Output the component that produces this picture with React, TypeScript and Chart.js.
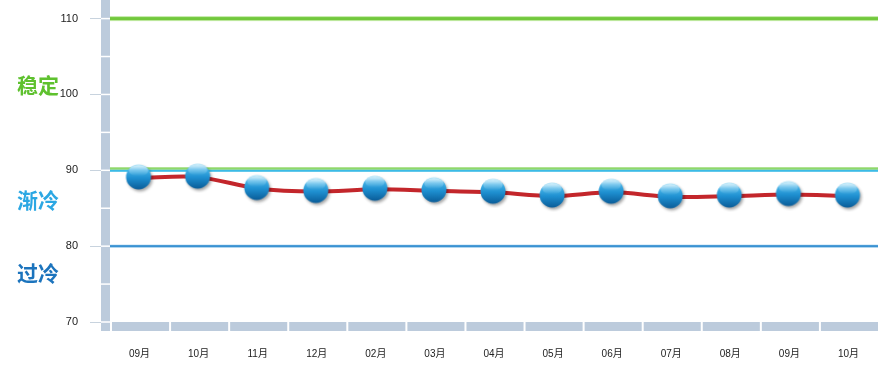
import React, { useEffect, useRef } from 'react';
import { Chart, registerables } from 'chart.js';

Chart.register(...registerables);

const months = ['09月', '10月', '11月', '12月', '02月', '03月', '04月', '05月', '06月', '07月', '08月', '09月', '10月'];
const values = [89.0, 89.1, 87.6, 87.2, 87.5, 87.3, 87.1, 86.6, 87.1, 86.5, 86.6, 86.8, 86.6];
const yMin = 70;
const yMax = 110;
const yStep = 5;
const yLabelStep = 10;
const zoneNames = ['稳定', '渐冷', '过冷'];
const zoneLabelValues = [101.2, 86.1, 76.4];
const zoneColors = ['#5ec12e', '#2ba7e3', '#1c74bd'];
const thresholdValues = [110, 90, 80];

function makeMarker(): HTMLCanvasElement {
  const c = document.createElement('canvas');
  c.width = 32;
  c.height = 32;
  const g = c.getContext('2d')!;
  const cx = 15, cy = 15, r = 12.5;
  g.save();
  g.shadowColor = 'rgba(0,0,0,0.35)';
  g.shadowBlur = 3;
  g.shadowOffsetX = 1.5;
  g.shadowOffsetY = 2;
  const grad = g.createLinearGradient(0, cy - r, 0, cy + r);
  grad.addColorStop(0, '#b2e6fa');
  grad.addColorStop(0.22, '#45b3e8');
  grad.addColorStop(0.55, '#1e8fd0');
  grad.addColorStop(1, '#0a5c98');
  g.fillStyle = grad;
  g.beginPath();
  g.arc(cx, cy, r, 0, Math.PI * 2);
  g.fill();
  g.restore();
  // gloss
  const hg = g.createLinearGradient(0, cy - r + 1, 0, cy - 1);
  hg.addColorStop(0, 'rgba(255,255,255,0.55)');
  hg.addColorStop(1, 'rgba(255,255,255,0.0)');
  g.fillStyle = hg;
  g.beginPath();
  g.ellipse(cx, cy - r / 2, r * 0.78, r * 0.45, 0, 0, Math.PI * 2);
  g.fill();
  return c;
}

const framePlugin = {
  id: 'frame',
  beforeDatasetsDraw(chart: any) {
    const { ctx, chartArea, scales } = chart;
    const y = scales.y;
    const x = scales.x;
    const barW = 9;
    const left = chartArea.left;
    const right = chartArea.right;
    const bottom = chartArea.bottom;
    ctx.save();
    ctx.fillStyle = '#bccbdc';
    ctx.fillRect(left - barW, 0, barW, bottom + barW);
    ctx.fillRect(left, bottom, right - left, barW);
    ctx.fillStyle = '#ffffff';
    for (let v = yMin; v <= yMax; v += yStep) {
      const py = y.getPixelForValue(v);
      ctx.fillRect(left - barW, py - 0.75, barW, 1.5);
    }
    const n = months.length;
    const step = n > 1 ? x.getPixelForValue(1) - x.getPixelForValue(0) : right - left;
    for (let i = 0; i < n; i++) {
      const px = x.getPixelForValue(i) - step / 2;
      ctx.fillRect(px, bottom, 2, barW);
    }
    // threshold lines
    const drawLine = (py: number, h: number, color: string) => {
      ctx.fillStyle = color;
      ctx.fillRect(left, py, right - left, h);
    };
    const p0 = y.getPixelForValue(thresholdValues[0]);
    drawLine(p0 - 2.5, 5, '#c4eaa8');
    drawLine(p0 - 1.5, 3, '#72c83c');
    const p1 = y.getPixelForValue(thresholdValues[1]);
    drawLine(p1 - 3, 2.5, '#8fd86a');
    drawLine(p1 - 0.5, 2, '#3cbbe6');
    const p2 = y.getPixelForValue(thresholdValues[2]);
    drawLine(p2 - 1.5, 3, '#a9d3f0');
    drawLine(p2 - 1, 2, '#3a92d2');
    // zone labels
    ctx.font = 'bold 21px "Noto Sans CJK SC", sans-serif';
    ctx.textAlign = 'left';
    ctx.textBaseline = 'middle';
    zoneNames.forEach((name, i) => {
      ctx.fillStyle = zoneColors[i];
      ctx.fillText(name, 17, y.getPixelForValue(zoneLabelValues[i]));
    });
    ctx.restore();
  },
};

export default function App() {
  const ref = useRef<HTMLCanvasElement | null>(null);
  useEffect(() => {
    if (!ref.current) return;
    const marker = makeMarker();
    const chart = new Chart(ref.current, {
      type: 'line',
      data: {
        labels: months,
        datasets: [
          {
            data: values,
            borderColor: '#c3262b',
            borderWidth: 4,
            tension: 0.3,
            pointStyle: marker as any,
            pointRadius: 13,
            pointHoverRadius: 13,
            fill: false,
          },
        ],
      },
      options: {
        animation: false,
        responsive: false,
        maintainAspectRatio: false,
        layout: { padding: { top: 16, right: 14, bottom: 0, left: 0 } },
        plugins: { legend: { display: false }, tooltip: { enabled: false } },
        scales: {
          x: {
            type: 'category',
            offset: true,
            grid: { display: false, drawTicks: false },
            border: { display: false },
            ticks: {
              padding: 26,
              color: '#222',
              font: { size: 10, family: '"Liberation Sans", "Noto Sans CJK SC", sans-serif' },
              maxRotation: 0,
              autoSkip: false,
            },
            afterFit: (s: any) => { s.height = 50; },
          },
          y: {
            min: yMin,
            max: yMax,
            border: { display: false },
            grid: {
              drawOnChartArea: false,
              drawTicks: true,
              tickLength: 20,
              color: (c: any) => (c.tick && c.tick.value % yLabelStep === 0 ? '#c8d3de' : 'rgba(0,0,0,0)'),
              tickColor: (c: any) => (c.tick && c.tick.value % yLabelStep === 0 ? '#c8d3de' : 'rgba(0,0,0,0)'),
            },
            ticks: {
              stepSize: yStep,
              padding: 12,
              color: '#222',
              font: { size: 11, family: '"Liberation Sans", sans-serif' },
              callback: (v: any) => (Number(v) % yLabelStep === 0 ? String(v) : ''),
            },
            afterFit: (s: any) => { s.width = 110; },
          },
        },
      },
      plugins: [framePlugin],
    });
    return () => chart.destroy();
  }, []);
  return (
    <div style={{ position: 'absolute', left: 0, top: 0, width: 895, height: 372, background: '#fff' }}>
      <canvas ref={ref} width={895} height={372} style={{ width: 895, height: 372 }} />
    </div>
  );
}
